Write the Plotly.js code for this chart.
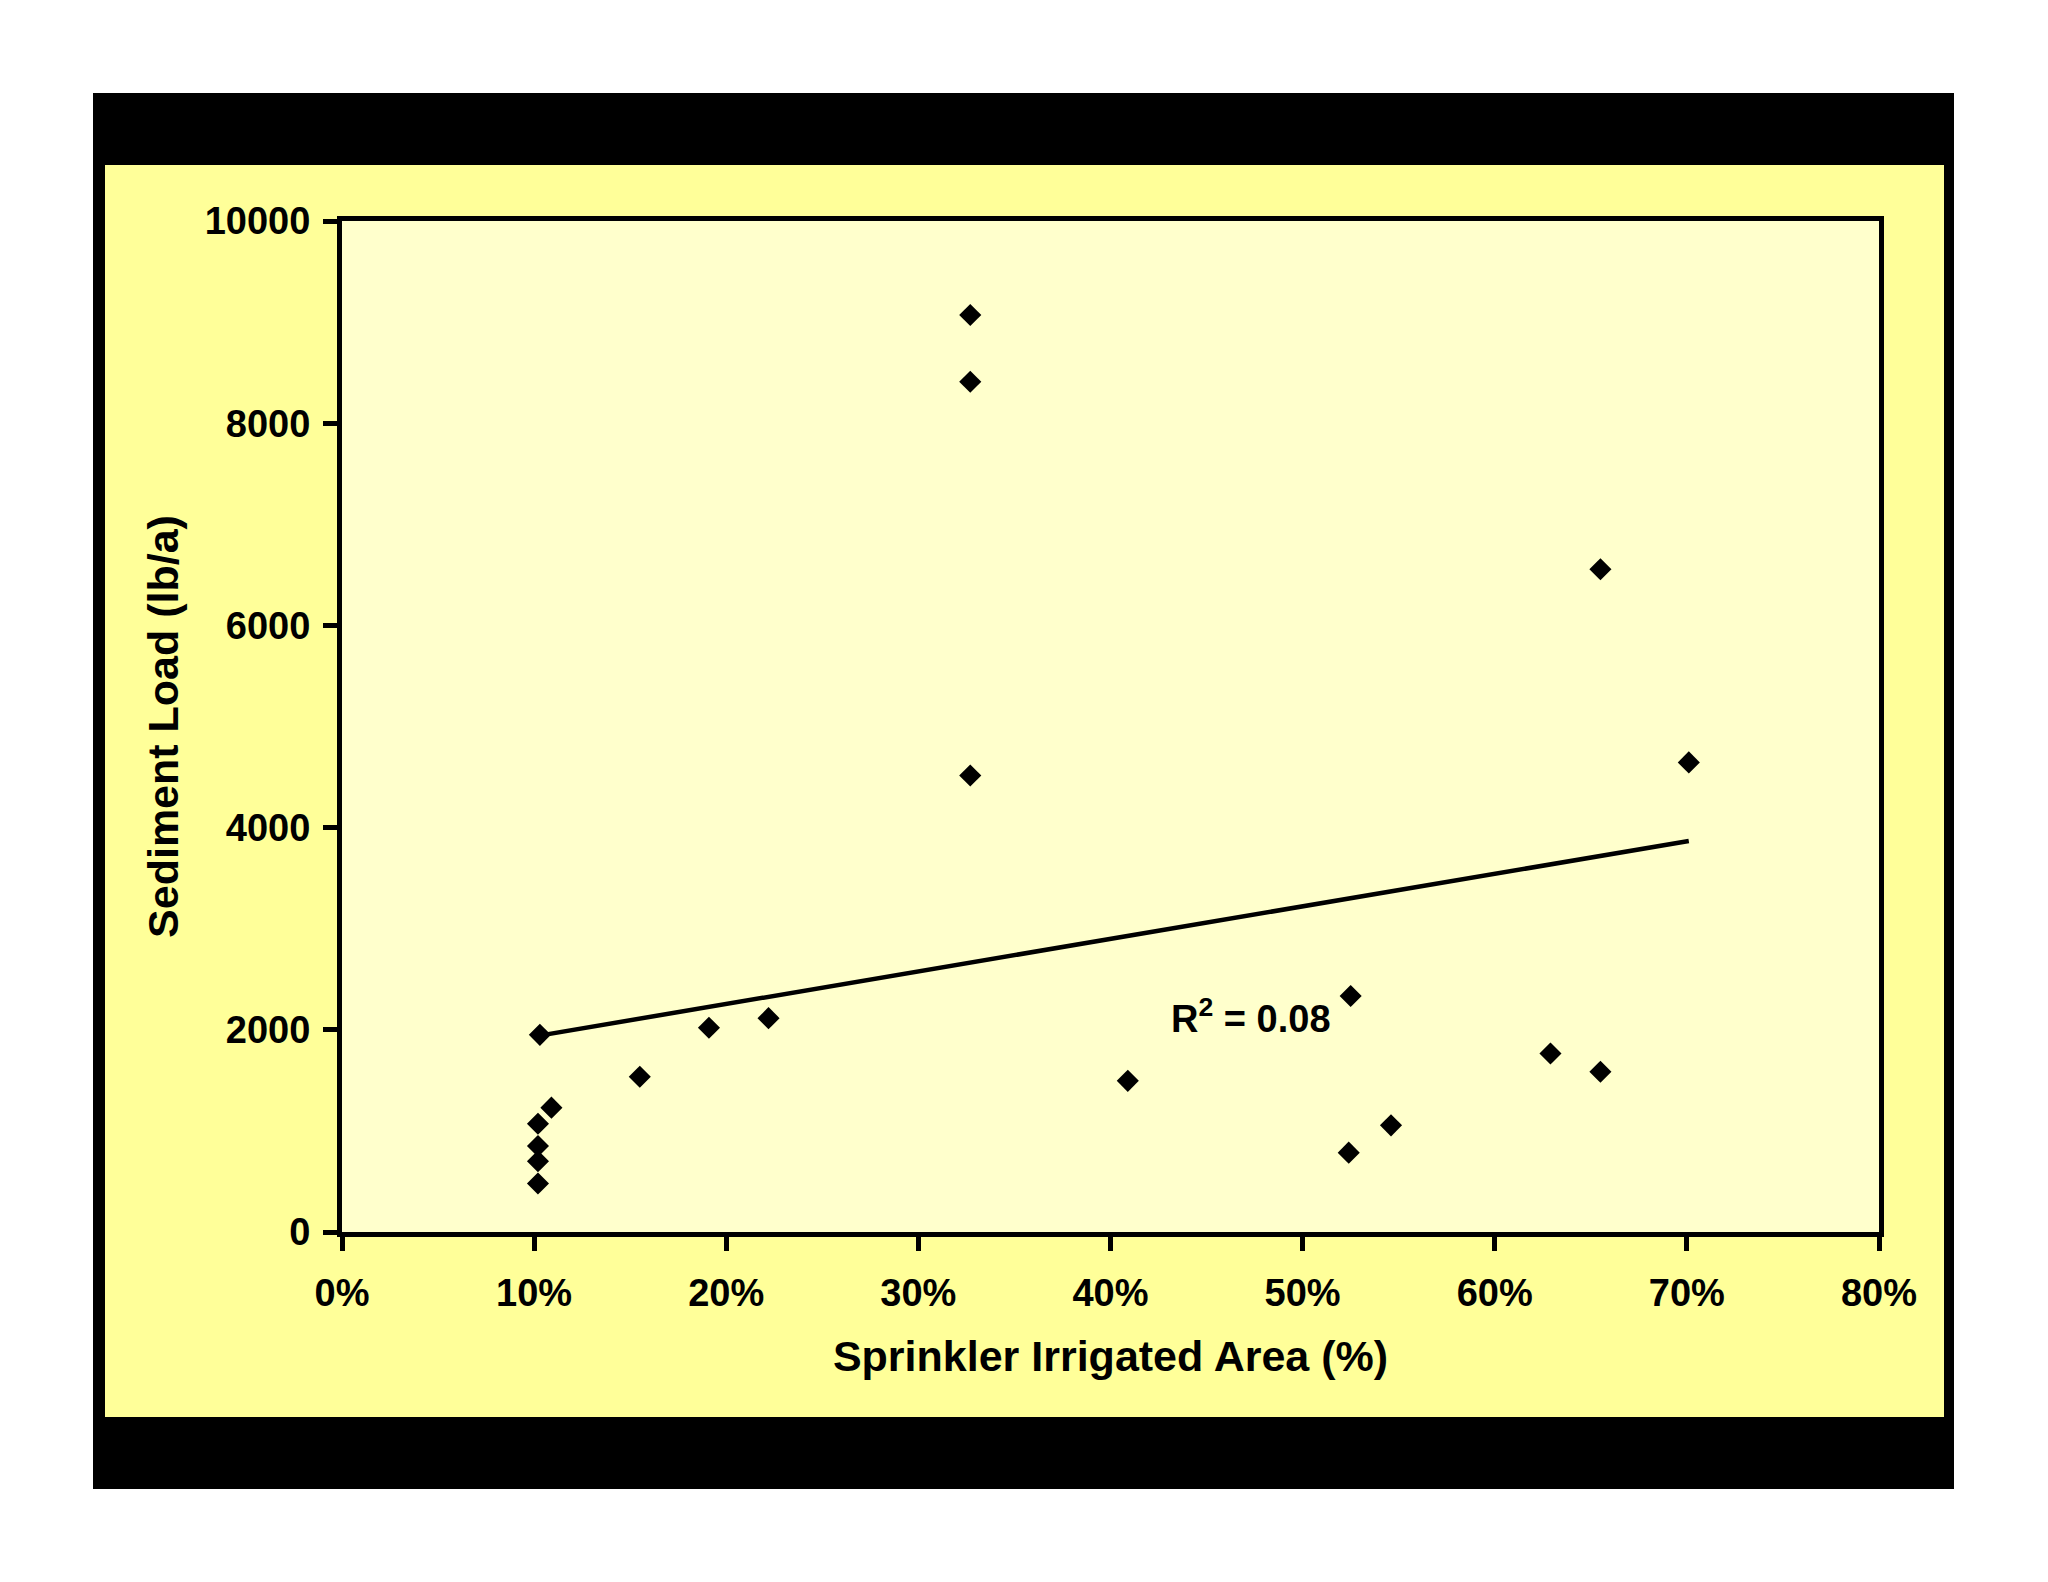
<!DOCTYPE html>
<html>
<head>
<meta charset="utf-8">
<script src="https://cdn.plot.ly/plotly-3.0.1.min.js"></script>
<style>
  html, body { margin: 0; padding: 0; background: #ffffff; }
  #frame { position: absolute; left: 93px; top: 93px; width: 1861px; height: 1396px; background: #000000; }
  #panel { position: absolute; left: 105px; top: 165px; width: 1839px; height: 1252px; background: #ffff99; }
  #graph { position: absolute; left: 0; top: 0; width: 2048px; height: 1582px; }
</style>
</head>
<body>
<div id="frame"></div>
<div id="panel"></div>
<div id="graph"></div>
<script>
// sprinkler irrigated area (%) vs sediment load (lb/a)
var sprinklerArea = [10.3, 10.9, 10.2, 10.2, 10.2, 10.2, 15.5, 19.1, 22.2, 32.7, 32.7, 32.7,
                     40.9, 52.5, 52.4, 54.6, 62.9, 65.5, 65.5, 70.1];
var sedimentLoad = [1950, 1230, 1070, 850, 700, 480, 1535, 2020, 2115, 9070, 8410, 4515,
                    1495, 2335, 785, 1055, 1765, 6555, 1585, 4645];
var xTicks = [0, 10, 20, 30, 40, 50, 60, 70, 80];
var xTickLabels = ['0%', '10%', '20%', '30%', '40%', '50%', '60%', '70%', '80%'];
var yTicks = [0, 2000, 4000, 6000, 8000, 10000];
var yTickLabels = ['0', '2000', '4000', '6000', '8000', '10000'];

// least squares line, like the excel trendline
function linearFit(xs, ys) {
    var n = xs.length, mx = 0, my = 0;
    for (var i = 0; i < n; i++) { mx += xs[i]; my += ys[i]; }
    mx /= n; my /= n;
    var sxy = 0, sxx = 0;
    for (var i = 0; i < n; i++) {
        sxy += (xs[i] - mx) * (ys[i] - my);
        sxx += (xs[i] - mx) * (xs[i] - mx);
    }
    var slope = sxy / sxx;
    return {slope: slope, intercept: my - slope * mx};
}

function drawChart() {
    var fit = linearFit(sprinklerArea, sedimentLoad);
    var xMin = Math.min.apply(null, sprinklerArea);
    var xMax = Math.max.apply(null, sprinklerArea);
    var trendX = [xMin, xMax];
    var trendY = [fit.intercept + fit.slope * xMin, fit.intercept + fit.slope * xMax];

    var font = {family: '"Liberation Sans", Arial, sans-serif', color: '#000000', weight: 'bold'};

    var data = [
        {x: sprinklerArea, y: sedimentLoad, type: 'scatter', mode: 'markers',
         marker: {symbol: 'diamond', size: 17, color: '#000000'}, hoverinfo: 'none'},
        {x: trendX, y: trendY, type: 'scatter', mode: 'lines',
         line: {color: '#000000', width: 4.5}, hoverinfo: 'none'}
    ];

    var axisCommon = {
        showgrid: false, zeroline: false, showline: true, mirror: true,
        linecolor: '#000000', linewidth: 5,
        ticks: 'outside', ticklen: 14, tickwidth: 5, tickcolor: '#000000'
    };

    var layout = {
        width: 2048, height: 1582,
        margin: {l: 342, r: 169, t: 221, b: 350},
        paper_bgcolor: 'rgba(0,0,0,0)',
        plot_bgcolor: '#ffffcc',
        showlegend: false,
        font: font,
        xaxis: Object.assign({}, axisCommon, {
            range: [0, 80], tickmode: 'array', tickvals: xTicks, ticktext: xTickLabels,
            tickfont: Object.assign({}, font, {size: 38}),
            ticklabelstandoff: 9,
            title: {text: 'Sprinkler Irrigated Area (%)', font: Object.assign({}, font, {size: 43}), standoff: 30}
        }),
        yaxis: Object.assign({}, axisCommon, {
            range: [0, 10000], tickmode: 'array', tickvals: yTicks, ticktext: yTickLabels,
            tickfont: Object.assign({}, font, {size: 38}),
            ticklabelstandoff: 5,
            title: {text: 'Sediment Load (lb/a)', font: Object.assign({}, font, {size: 43}), standoff: 14}
        }),
        annotations: [{
            x: 47.3, y: 2140, xref: 'x', yref: 'y', showarrow: false,
            text: 'R<sup>2</sup> = 0.08',
            font: Object.assign({}, font, {size: 38})
        }]
    };

    Plotly.newPlot('graph', data, layout, {staticPlot: true});
}

drawChart();
</script>
</body>
</html>
